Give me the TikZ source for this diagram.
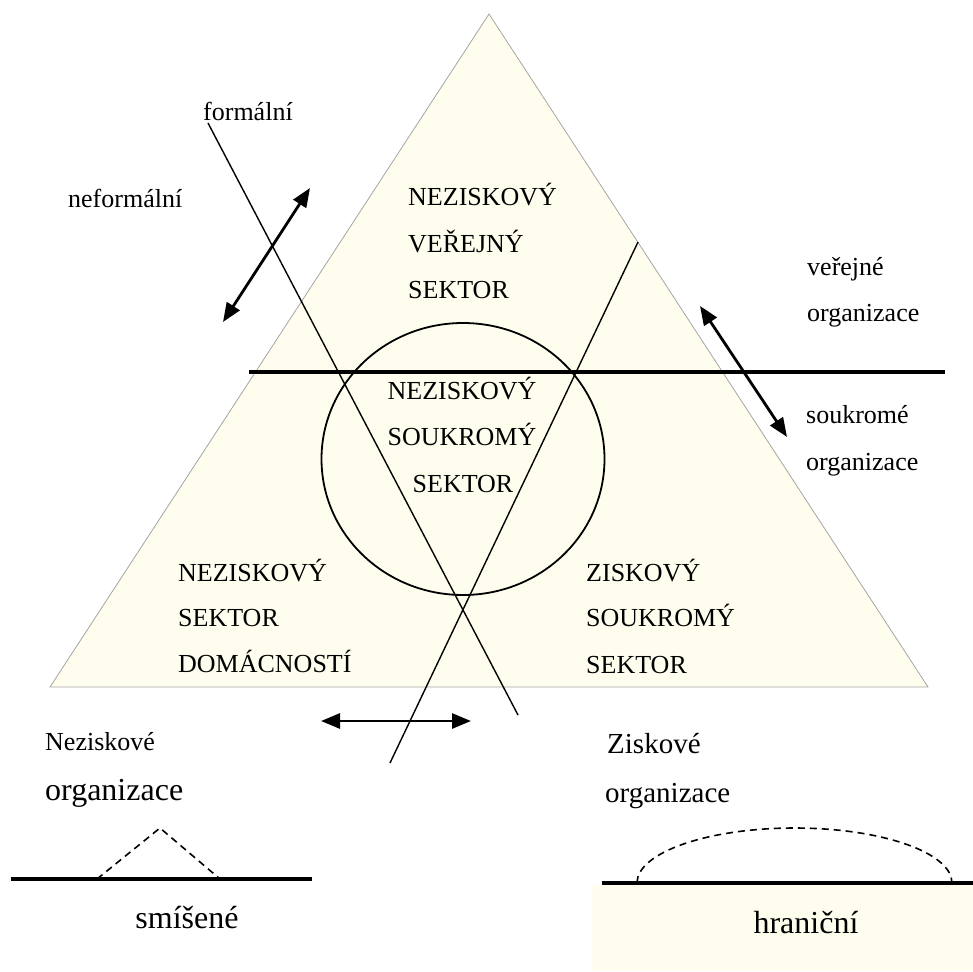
\documentclass[tikz,border=0pt]{standalone}
\usepackage{fontspec}
\setmainfont{Liberation Serif}
\usetikzlibrary{arrows.meta}
\definecolor{cream}{RGB}{255,253,238}
\definecolor{edgegray}{RGB}{165,165,165}
\tikzset{
  lbl/.style={inner sep=0pt, anchor=base west, font=\fontsize{26}{26}\selectfont},
  lblc/.style={inner sep=0pt, anchor=base, font=\fontsize{26}{26}\selectfont},
  big/.style={font=\fontsize{32}{32}\selectfont},
  mid/.style={font=\fontsize{29}{29}\selectfont},
  thinline/.style={line width=1.4pt},
  thickline/.style={line width=3.2pt},
  dblarrow/.style={line width=2.8pt, {Triangle[length=19pt,width=15pt]}-{Triangle[length=19pt,width=15pt]}},
  dashline/.style={line width=1.6pt, dash pattern=on 7pt off 5pt}
}
\begin{document}
\begin{tikzpicture}[x=1pt,y=-1pt]
\useasboundingbox (0,0) rectangle (973,971);
% triangle
\coordinate (apex) at (489,14);
\coordinate (bl) at (50,687);
\coordinate (br) at (928,687);
\fill[cream] (apex) -- (bl) -- (br) -- cycle;
\draw[edgegray, line width=0.8pt] (apex) -- (bl) -- (br) -- cycle;
% bottom right box
\fill[cream] (592,885) rectangle (973,971);
% horizontal divider
\coordinate (hl1) at (249,372);
\coordinate (hl2) at (945,372);
\draw[thickline] (hl1) -- (hl2);
% crossing lines
\coordinate (l1a) at (208,123);
\coordinate (l1b) at (518,715);
\draw[thinline] (l1a) -- (l1b);
\coordinate (l2a) at (638,242);
\coordinate (l2b) at (390,763);
\draw[thinline] (l2a) -- (l2b);
% ellipse
\coordinate (ec) at (463,459);
\draw[line width=1.8pt] (ec) ellipse [x radius=141.5, y radius=136];
% arrows
\coordinate (a1a) at (223,322);
\coordinate (a1b) at (310,188);
\draw[dblarrow] (a1a) -- (a1b);
\coordinate (a2a) at (700,306);
\coordinate (a2b) at (787,437);
\draw[dblarrow] (a2a) -- (a2b);
\coordinate (a3a) at (321,721);
\coordinate (a3b) at (471,721);
\draw[dblarrow] (a3a) -- (a3b);
% bottom left: mixed
\coordinate (m1) at (11,879);
\coordinate (m2) at (312,879);
\draw[thickline] (m1) -- (m2);
\coordinate (t1) at (97,879);
\coordinate (t2) at (160,828);
\coordinate (t3) at (220,879);
\draw[dashline] (t1) -- (t2) -- (t3);
% bottom right: boundary
\coordinate (b1) at (602,883);
\coordinate (b2) at (973,883);
\draw[thickline] (b1) -- (b2);
\coordinate (d1) at (637,883);
\draw[dashline] (d1) arc[start angle=180, end angle=0, x radius=157.5, y radius=-55];
% texts
\node[lbl] (formalni) at (203,121) {formální};
\node[lbl] (neformalni) at (68,207) {neformální};
\node[lbl] (nv1) at (408,205) {NEZISKOVÝ};
\node[lbl] (nv2) at (408,252) {VEŘEJNÝ};
\node[lbl] (nv3) at (408,298) {SEKTOR};
\node[lblc] (ns1) at (462,399) {NEZISKOVÝ};
\node[lblc] (ns2) at (462,445) {SOUKROMÝ};
\node[lblc] (ns3) at (463,492) {SEKTOR};
\node[lbl] (nd1) at (178,581) {NEZISKOVÝ};
\node[lbl] (nd2) at (178,626) {SEKTOR};
\node[lbl] (nd3) at (178,672) {DOMÁCNOSTÍ};
\node[lbl] (zs1) at (586,581) {ZISKOVÝ};
\node[lbl] (zs2) at (586,626) {SOUKROMÝ};
\node[lbl] (zs3) at (586,673) {SEKTOR};
\node[lbl] (ver1) at (807,275) {veřejné};
\node[lbl] (ver2) at (807,321) {organizace};
\node[lbl] (sou1) at (806,423) {soukromé};
\node[lbl] (sou2) at (806,470) {organizace};
\node[lbl] (nez1) at (45,750) {Neziskové};
\node[lbl,big] (nez2) at (45,800) {organizace};
\node[lbl,mid] (zis1) at (607,753) {Ziskové};
\node[lbl,mid] (zis2) at (605,802) {organizace};
\node[lblc,big] (smis) at (187,928) {smíšené};
\node[lblc,big] (hran) at (806,933) {hraniční};
\end{tikzpicture}
\end{document}
